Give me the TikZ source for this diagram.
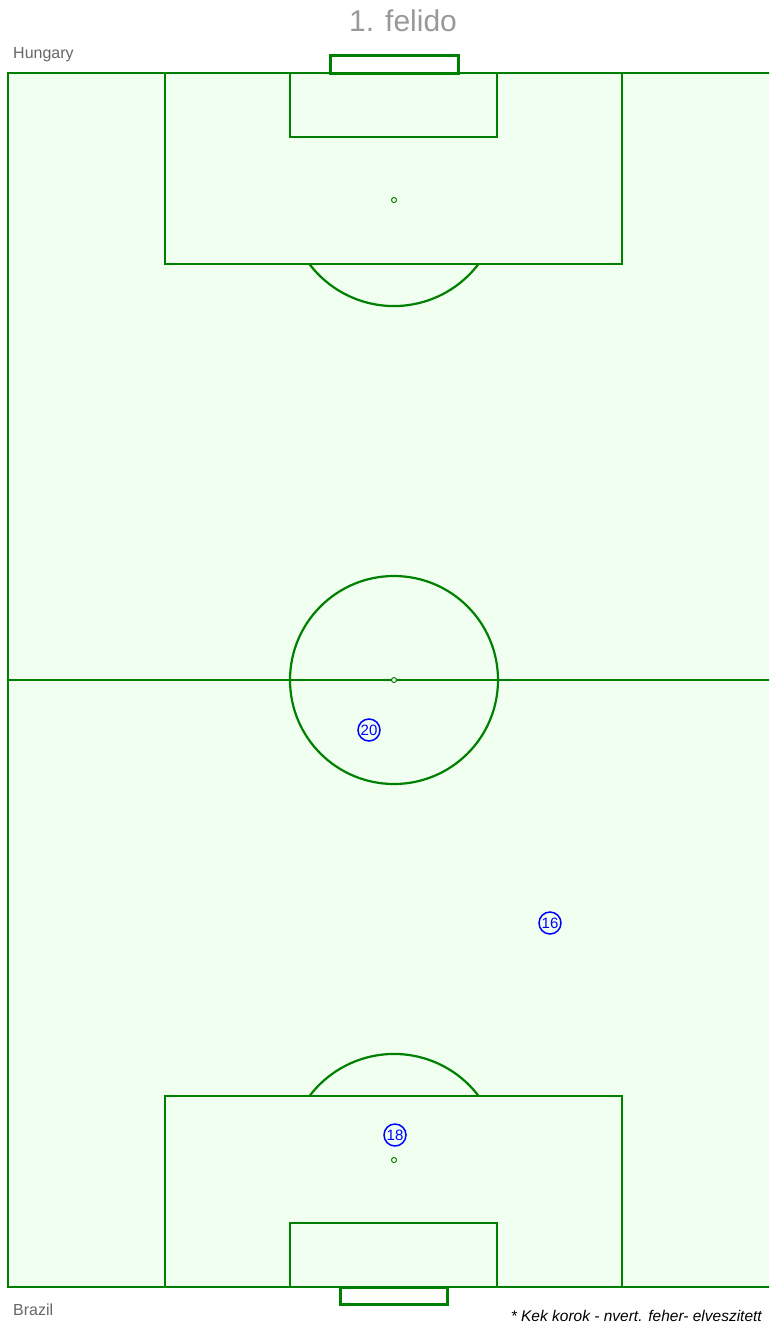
\documentclass[tikz,border=0pt]{standalone}
\usepackage{fontspec}
\setmainfont{Liberation Sans}
\definecolor{pitchgreen}{HTML}{008000}
\definecolor{pitchfill}{HTML}{F0FFF0}
\definecolor{titlegray}{HTML}{999999}
\definecolor{labelgray}{HTML}{666666}
\tikzset{
  line/.style={draw=pitchgreen, line width=2.2pt},
  goalbox/.style={draw=pitchgreen, line width=3pt, fill=white},
  spot/.style={draw=pitchgreen, line width=1pt, fill=white, circle, inner sep=0pt, minimum size=5pt},
  player/.style={draw=blue, line width=1.5pt, circle, inner sep=0pt, minimum size=22pt, text=blue, font=\fontsize{15}{15}\selectfont},
}
\begin{document}
\begin{tikzpicture}[x=1pt,y=-1pt]
\useasboundingbox (0,0) rectangle (769,1323);
\clip (0,0) rectangle (769,1323);
% pitch
\filldraw[pitchfill] (8,73) rectangle (780,1287);
% goals
\draw[goalbox] (330,55) rectangle (458,73);
\draw[goalbox] (340,1287) rectangle (447,1304);
\draw[line] (8,73) rectangle (780,1287);
% halfway line and centre circle
\draw[line, line width=2.5pt] (8,680) -- (780,680);
\draw[line] (394,680) circle[radius=104pt];
% top penalty area
\draw[line] (165,73) rectangle (622,264);
\draw[line] (290,73) rectangle (497,137);
\draw[line] (309.4,264) arc[start angle=217.1, end angle=322.9, radius=106pt];
% bottom penalty area
\draw[line] (165,1096) rectangle (622,1287);
\draw[line] (290,1223) rectangle (497,1287);
\draw[line] (478.6,1096) arc[start angle=37.1, end angle=142.9, radius=106pt];
% spots
\node[spot] (ts) at (394,200) {};
\node[spot] (cs) at (394,680) {};
\node[spot] (bs) at (394,1160) {};
% players
\node[player] (p20) at (369,730) {\raisebox{-2pt}{20}};
\node[player] (p16) at (550,923) {\raisebox{-2pt}{16}};
\node[player] (p18) at (395,1135) {\raisebox{-2pt}{18}};
% texts
\node[text=titlegray, font=\fontsize{30}{30}\selectfont] (title) at (403,21) {1. felido};
\node[text=labelgray, font=\fontsize{16}{16}\selectfont, anchor=west, inner sep=0pt] (hun) at (13,55) {Hungary};
\node[text=labelgray, font=\fontsize{16}{16}\selectfont, anchor=west, inner sep=0pt] (bra) at (13,1310) {Brazil};
\node[font=\fontsize{15.5}{15.5}\selectfont\itshape, anchor=east, inner sep=0pt] (note) at (762,1316) {* Kek korok - nvert. feher- elveszitett};
\end{tikzpicture}
\end{document}
